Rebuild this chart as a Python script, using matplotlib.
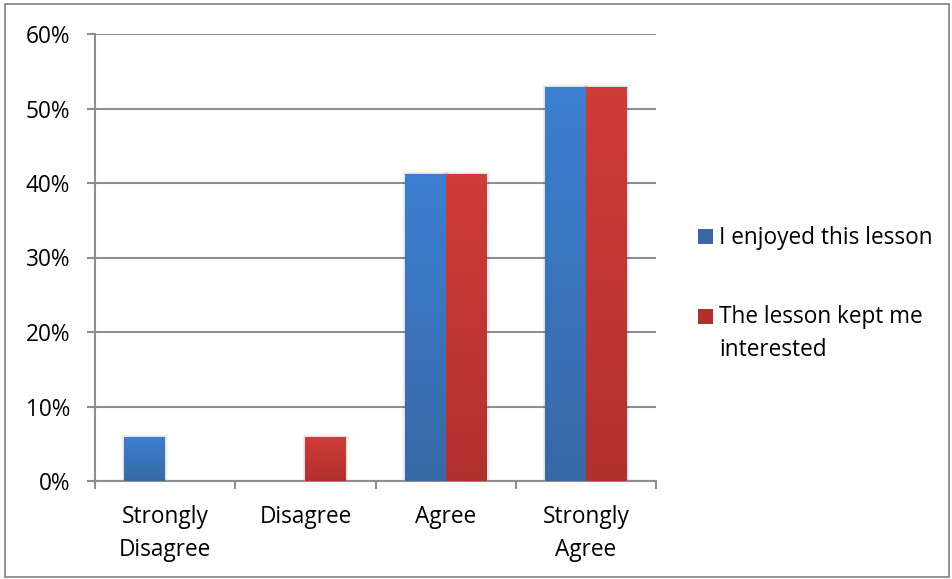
import numpy as np
import matplotlib.pyplot as plt
from matplotlib.patches import Rectangle
from matplotlib.colors import LinearSegmentedColormap

plt.rcParams["font.family"] = ["Open Sans", "DejaVu Sans"]

categories = ["Strongly\nDisagree", "Disagree", "Agree", "Strongly\nAgree"]
enjoyed = [5.9, 0.0, 41.2, 52.9]
interested = [0.0, 5.9, 41.2, 52.9]
series_names = ["I enjoyed this lesson", "The lesson kept me\ninterested"]

# top / bottom colours for the vertical gradient fill
blue_grad = ("#3d7fd2", "#3869a6")
red_grad = ("#d03c38", "#b1302e")

W, H = 952, 579
FS = 16.3
fig = plt.figure(figsize=(W / 100, H / 100), dpi=100)
ax = fig.add_axes([95 / W, 1 - 481 / H, (656 - 95) / W, (481 - 34) / H])

grid_col = "#8e8e8e"
bar_w = 0.29
x = np.arange(len(categories))


def gradient_bar(ax, x0, h, colors):
    if h <= 0:
        return
    # soft shadow on the sides of the bar
    for k, a in enumerate([0.06, 0.04, 0.02]):
        d = 0.008 * (k + 1)
        ax.add_patch(Rectangle((x0 - d, 0), bar_w + 2 * d, h + d * 20,
                               facecolor="black", alpha=a, edgecolor="none", zorder=2))
    rect = Rectangle((x0, 0), bar_w, h, facecolor="none", edgecolor="none", zorder=3)
    ax.add_patch(rect)
    cmap = LinearSegmentedColormap.from_list("g", [colors[1], colors[0]])
    grad = np.linspace(0, 1, 256).reshape(-1, 1)
    im = ax.imshow(grad, extent=(x0, x0 + bar_w, 0, h), origin="lower",
                   cmap=cmap, aspect="auto", zorder=3)
    im.set_clip_path(rect)


for xi, v in zip(x, enjoyed):
    gradient_bar(ax, xi - bar_w, v, blue_grad)
for xi, v in zip(x, interested):
    gradient_bar(ax, xi, v, red_grad)

ax.set_xlim(-0.5, len(categories) - 0.5)
ax.set_ylim(0, 60)
ax.set_yticks(np.arange(0, 61, 10))
ax.set_yticklabels([f"{t}%" for t in range(0, 61, 10)], fontsize=FS)
ax.yaxis.grid(True, color=grid_col, linewidth=1.5, zorder=1)
ax.set_axisbelow(True)

ax.set_xticks(x)
ax.set_xticklabels(categories, fontsize=FS, linespacing=1.5)
ax.set_xticks(np.arange(-0.5, len(categories)), minor=True)
ax.tick_params(axis="x", which="major", length=0, pad=17)
ax.tick_params(axis="x", which="minor", length=6, width=1.5, color=grid_col)
ax.tick_params(axis="y", length=6, width=1.5, color=grid_col, pad=12)

for s in ["top", "right"]:
    ax.spines[s].set_visible(False)
for s in ["left", "bottom"]:
    ax.spines[s].set_color(grid_col)
    ax.spines[s].set_linewidth(1.5)

# legend: square swatch aligned with the first line of each label
legend_y = [237, 316]
for (top, bottom), name, yy in zip((blue_grad, red_grad), series_names, legend_y):
    fig.add_artist(Rectangle((698 / W, 1 - (yy + 7.5) / H), 15 / W, 15 / H,
                             transform=fig.transFigure,
                             facecolor=bottom, edgecolor="none"))
    fig.text(719 / W, 1 - (yy - 11) / H, name, fontsize=FS, va="top",
             ha="left", linespacing=1.5)

# outer chart border
fig.add_artist(Rectangle((5 / W, 2 / H), (W - 8) / W, (H - 6) / H,
                         transform=fig.transFigure, fill=False,
                         edgecolor="#8a8a8a", linewidth=1.3))

fig.savefig("out.png", dpi=100)
